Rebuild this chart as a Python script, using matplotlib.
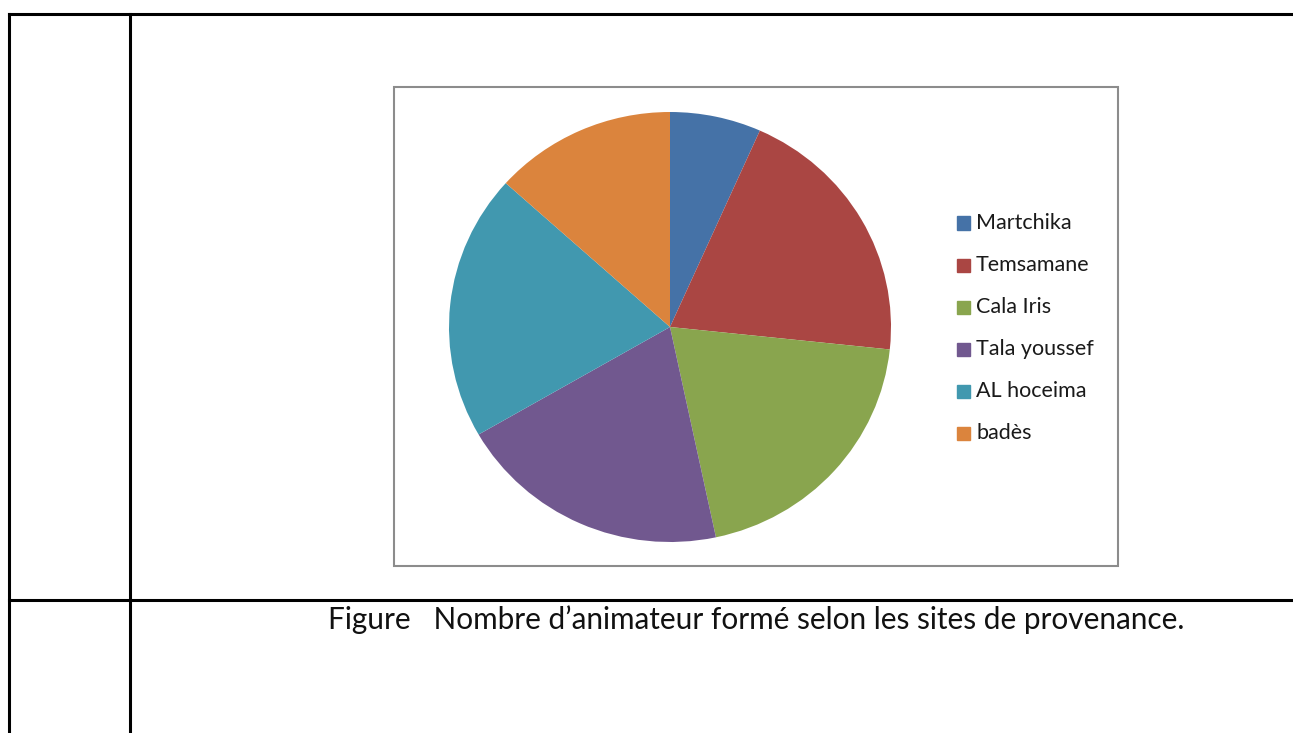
import matplotlib.pyplot as plt
from matplotlib.lines import Line2D
from matplotlib.patches import Rectangle

W, H = 1293, 733

sites = ["Martchika", "Temsamane", "Cala Iris", "Tala youssef", "AL hoceima", "badès"]
counts = [1, 3, 3, 3, 3, 2]
colors = ["#4572A7", "#AA4643", "#89A54E", "#71588F", "#4198AF", "#DB843D"]
caption = "Figure   Nombre d\u2019animateur formé selon les sites de provenance."

plt.rcParams["font.family"] = ["Lato", "DejaVu Sans"]

fig = plt.figure(figsize=(W / 100, H / 100), dpi=100)


def fx(px):
    return px / W


def fy(py):
    return 1 - py / H


# table lines of the document
for x0, y0, x1, y1 in [(9, 14, W, 14), (9, 600, W, 600), (9, 14, 9, H),
                       (130, 14, 130, H)]:
    fig.add_artist(Line2D([fx(x0), fx(x1)], [fy(y0), fy(y1)], color="black",
                          lw=2.2, transform=fig.transFigure))

# chart frame
fig.add_artist(Rectangle((fx(394), fy(566)), fx(1118) - fx(394), fy(87) - fy(566),
                         transform=fig.transFigure, fill=False,
                         edgecolor="#8c8c8c", lw=1.5))

# pie
cx, cy, rx, ry = 670, 327, 221, 215
ax = fig.add_axes([fx(cx - rx), fy(cy + ry), 2 * rx / W, 2 * ry / H])
ax.pie(counts, colors=colors, startangle=90, counterclock=False,
       wedgeprops=dict(edgecolor="none"))
ax.set_aspect("auto")
ax.set_xlim(-1, 1)
ax.set_ylim(-1, 1)
ax.axis("off")

# legend, drawn by hand so the rows sit where the reference has them
for i, (name, c) in enumerate(zip(sites, colors)):
    ry_ = 223 + 42 * i
    fig.add_artist(Rectangle((fx(957), fy(ry_ + 6.5)), 13 / W, 13 / H,
                             transform=fig.transFigure, color=c))
    fig.text(fx(976), fy(ry_), name, fontsize=15.5, va="center", ha="left",
             color="#1a1a1a")

fig.text(fx(328), fy(629), caption, fontsize=21.4, va="baseline", ha="left",
         color="#111111")

fig.savefig("out.png", dpi=100)
